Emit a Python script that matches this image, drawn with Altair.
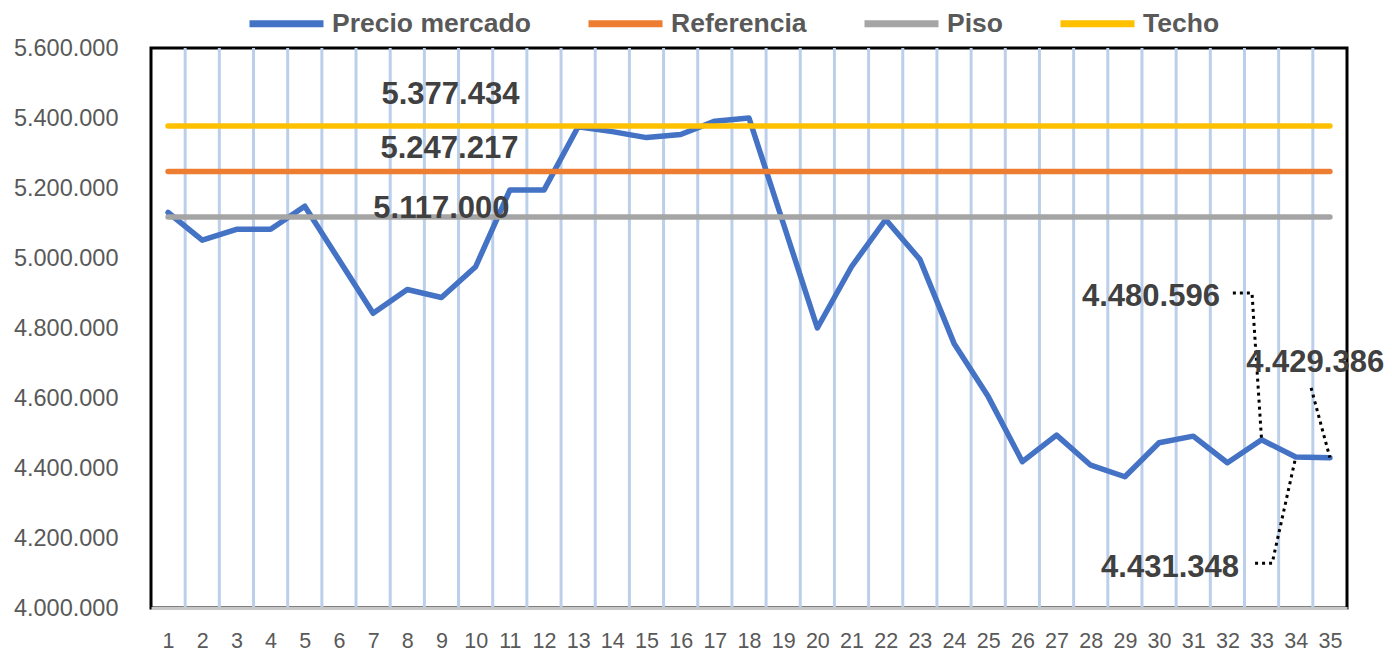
import altair as alt
import pandas as pd

# ---------------- data ----------------
categories = list(range(1, 36))
precio = [5130000, 5051000, 5082000, 5082000, 5148000, 4995000, 4842000, 4910000,
          4887000, 4975000, 5194000, 5194000, 5375000, 5361000, 5344000, 5353000,
          5391000, 5400000, 5100000, 4800000, 4975000, 5110000, 4996000, 4756000,
          4604000, 4418000, 4494000, 4408000, 4375000, 4472000, 4491000, 4415000,
          4480596, 4431348, 4429386]
referencia = 5247217
piso = 5117000
techo = 5377434

series_names = ["Precio mercado", "Referencia", "Piso", "Techo"]
series_colors = ["#4472c4", "#ed7d31", "#a5a5a5", "#ffc000"]

y_ticks = [4000000, 4200000, 4400000, 4600000, 4800000, 5000000, 5200000, 5400000, 5600000]

# callouts: point category, label anchor (category units, value), leader bend points
callout_cats = [33, 35, 34]
callout_label_x = [31.78, 34.57, 32.34]
callout_label_y = [4894000, 4706000, 4120000]
callout_label_align = ["right", "center", "right"]
callout_leader_x = [[32.16, 32.72], [34.45], [32.81, 33.31]]
callout_leader_y = [[4900000, 4900000], [4629000], [4128000, 4128000]]


def fmt(v):
    return f"{v:,}".replace(",", ".")


# ---------------- tables ----------------
rows = []
for c, p in zip(categories, precio):
    rows.append({"cat": c, "value": p, "serie": "Precio mercado"})
for name, val in [("Referencia", referencia), ("Piso", piso), ("Techo", techo)]:
    for c in categories:
        rows.append({"cat": c, "value": val, "serie": name})
df = pd.DataFrame(rows)

grid_df = pd.DataFrame({"b": [c + 0.5 for c in categories[:-1]]})

ref_vals = [techo, referencia, piso]
ref_dx = [9, 8, 0]
ref_dy = [-31, -22, -8]

leader_rows = []
for i, c in enumerate(callout_cats):
    v = precio[categories.index(c)]
    k = 0
    for lx, ly in zip(callout_leader_x[i], callout_leader_y[i]):
        leader_rows.append({"id": i, "o": k, "x": lx, "y": ly})
        k += 1
    leader_rows.append({"id": i, "o": k, "x": c, "y": v})
leader_df = pd.DataFrame(leader_rows)

FONT = "Liberation Sans"

xscale = alt.Scale(domain=[0.5, 35.5], nice=False, zero=False)
yscale = alt.Scale(domain=[4000000, 5600000], nice=False, zero=False)

xaxis = alt.Axis(values=categories, title=None, grid=False, ticks=False,
                 domainColor="#c8c8c8", domainWidth=3,
                 labelFont=FONT, labelFontSize=21.5, labelColor="#595959",
                 labelPadding=22, labelAngle=0, labelOverlap=False,
                 labelBound=False, labelFlush=False, zindex=1)
yaxis = alt.Axis(values=y_ticks, title=None, grid=False, ticks=False,
                 domain=False, labelFont=FONT, labelFontSize=23.5,
                 labelColor="#595959", labelPadding=33,
                 labelExpr="replace(format(datum.value, ','), regexp(',', 'g'), '.')")


def X(field):
    return alt.X(field, scale=xscale, axis=xaxis)


def Y(field):
    return alt.Y(field, scale=yscale, axis=yaxis)


color = alt.Color(
    "serie:N",
    scale=alt.Scale(domain=series_names, range=series_colors),
    legend=alt.Legend(
        title=None, orient="none", direction="horizontal",
        legendX=95, legendY=-65,
        symbolType="stroke", symbolSize=5476, symbolStrokeWidth=7,
        labelFont=FONT, labelFontSize=26.5, labelFontWeight="bold",
        labelColor="#595959", labelOffset=5, columnPadding=43, padding=0,
        labelLimit=400,
    ),
)

grid = alt.Chart(grid_df).mark_rule(color="#bccfea", strokeWidth=3).encode(x=X("b:Q"))


def line_layer(name):
    return alt.Chart(df).transform_filter(alt.datum.serie == name).mark_line(
        strokeWidth=5.5, strokeCap="round", strokeJoin="round"
    ).encode(x=X("cat:Q"), y=Y("value:Q"), color=color)


lines = [line_layer(n) for n in series_names]

ref_texts = []
for i, v in enumerate(ref_vals):
    d = pd.DataFrame({"cat": [9], "value": [v], "label": [fmt(v)]})
    ref_texts.append(
        alt.Chart(d).mark_text(
            font=FONT, fontSize=31, fontWeight="bold", color="#404040", baseline="middle",
            dx=ref_dx[i], dy=ref_dy[i]
        ).encode(x=X("cat:Q"), y=Y("value:Q"), text="label:N")
    )

leaders = alt.Chart(leader_df).mark_line(
    color="black", strokeWidth=3, strokeDash=[3, 4]
).encode(x=X("x:Q"), y=Y("y:Q"), detail="id:N", order="o:Q")

callout_texts = []
for i, c in enumerate(callout_cats):
    v = precio[categories.index(c)]
    d = pd.DataFrame({"x": [callout_label_x[i]], "y": [callout_label_y[i]], "label": [fmt(v)]})
    callout_texts.append(
        alt.Chart(d).mark_text(
            font=FONT, fontSize=31, fontWeight="bold", color="#404040", baseline="middle",
            align=callout_label_align[i], dy=2
        ).encode(x=X("x:Q"), y=Y("y:Q"), text="label:N")
    )

chart = alt.layer(grid, *lines, leaders, *ref_texts, *callout_texts).properties(
    width=1196, height=560,
    autosize=alt.AutoSizeParams(type="none"),
    padding={"left": 143, "top": 40, "right": 37, "bottom": 43},
    background="white",
).configure_view(stroke="black", strokeWidth=3).configure_axisX(labelOverlap=False)

chart.save("out.html", embed_options={"renderer": "svg", "actions": False})
